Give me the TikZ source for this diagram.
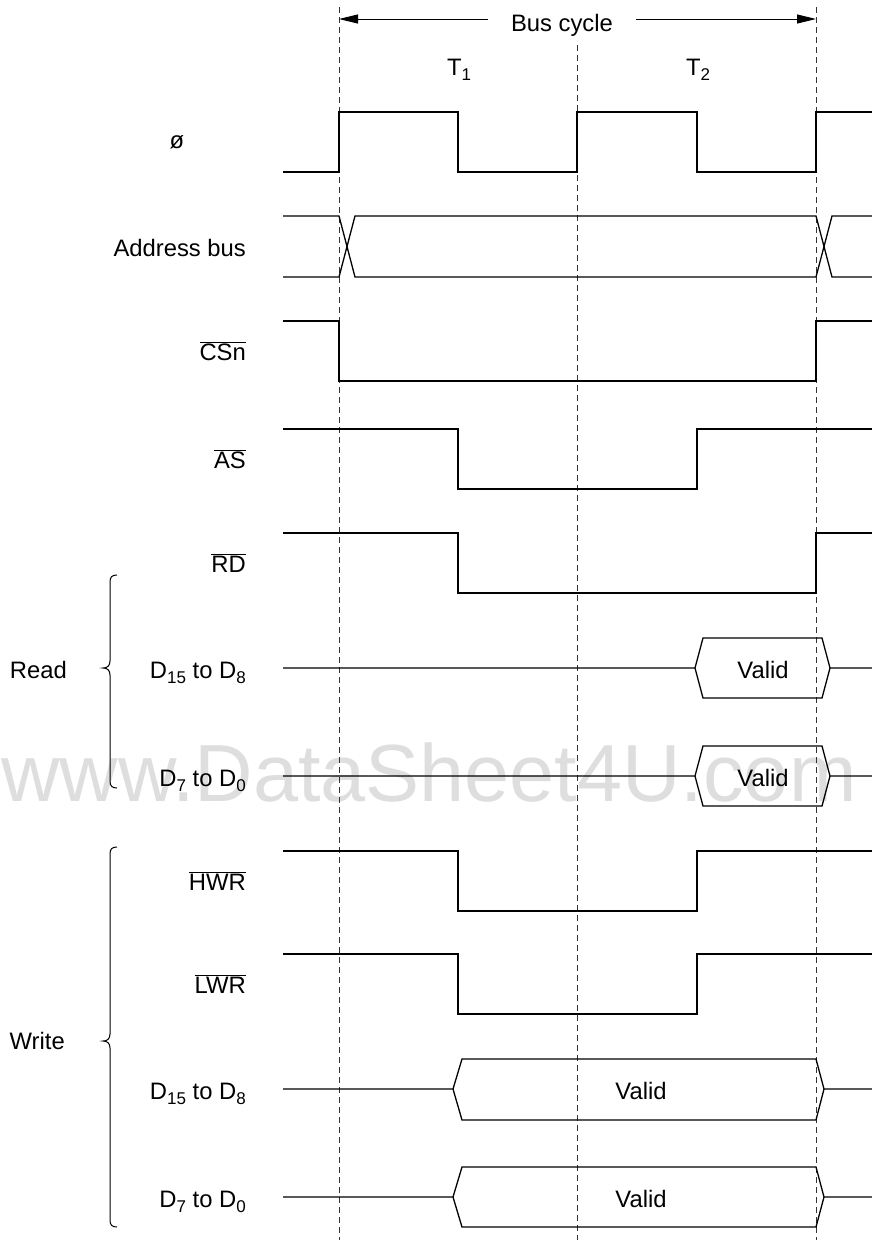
\documentclass[tikz,border=0pt]{standalone}
\usepackage{fontspec}
\setmainfont{Liberation Sans}
\usetikzlibrary{arrows.meta}

% 添字と負論理
\newcommand\dsub[1]{\raisebox{-5.5pt}{\fontsize{17}{18}\selectfont #1}}
\newcommand\nsig[1]{$\overline{\mbox{#1}}$}

\tikzset{
  sig/.style={black,line width=1.3pt,line join=miter},
  tick/.style={black!80,line width=0.9pt,dash pattern=on 6pt off 4pt},
  txt/.style={inner sep=0pt,font=\fontsize{23.8}{26}\selectfont},
  lbl/.style={txt,anchor=base east},
  brc/.style={black,line width=1pt}
}

\begin{document}
\begin{tikzpicture}[x=1pt,y=-1pt,>={Triangle[length=19pt,width=9pt]}]
    \useasboundingbox (0,0) rectangle (872,1240);

    % 透かし
    \node[anchor=base west,inner sep=0pt,text=black!13,
          font=\fontsize{81}{84}\selectfont] (wmark) at (1,801) {www.DataSheet4U.com};

    % 区切り線
    \draw[tick] (339,7) -- (339,1240);
    \draw[tick] (577,45) -- (577,1240);
    \draw[tick] (816,7) -- (816,1240);

    % バスサイクル
    \coordinate (cycL) at (339,19);
    \coordinate (cycR) at (816,19);
    \node[txt,anchor=base,inner xsep=23pt] (cyc) at (562,31) {Bus cycle};
    \draw[black,line width=1pt,->] (cyc.west |- cycL) -- (cycL);
    \draw[black,line width=1pt,->] (cyc.east |- cycR) -- (cycR);

    \node[txt,anchor=base] (t1) at (459,75) {T\dsub{1}};
    \node[txt,anchor=base] (t2) at (698,75) {T\dsub{2}};

    % 信号名
    \node[txt] (phi) at (177,142) {ø};
    \node[lbl] (addr) at (246,256) {Address bus};
    \node[lbl] (csn) at (246,360) {\nsig{CSn}};
    \node[lbl] (as) at (246,468) {\nsig{AS}};
    \node[lbl] (rd) at (246,572) {\nsig{RD}};
    \node[lbl] (rdh) at (246,678) {D\dsub{15} to D\dsub{8}};
    \node[lbl] (rdl) at (246,786) {D\dsub{7} to D\dsub{0}};
    \node[lbl] (hwr) at (246,890) {\nsig{HWR}};
    \node[lbl] (lwr) at (246,993) {\nsig{LWR}};
    \node[lbl] (wrh) at (246,1099) {D\dsub{15} to D\dsub{8}};
    \node[lbl] (wrl) at (246,1207) {D\dsub{7} to D\dsub{0}};

    \node[lbl] (read) at (67,678) {Read};
    \node[lbl] (write) at (65,1049) {Write};

    % 括弧
    \draw[brc] (117,575) .. controls (112,575) and (110,577) .. (110,582)
        -- (110,661) .. controls (110,666) and (107,668) .. (103,668)
        .. controls (107,668) and (110,670) .. (110,675)
        -- (110,781) .. controls (110,786) and (112,788) .. (117,788);
    \draw[brc] (117,847) .. controls (112,847) and (110,849) .. (110,854)
        -- (110,1034) .. controls (110,1039) and (107,1041) .. (103,1041)
        .. controls (107,1041) and (110,1043) .. (110,1048)
        -- (110,1220) .. controls (110,1225) and (112,1227) .. (117,1227);

    % ø
    \draw[sig] (283,172) -- (339,172) -- (339,112) -- (458,112) -- (458,172)
        -- (577,172) -- (577,112) -- (697,112) -- (697,172) -- (816,172)
        -- (816,112) -- (872,112);

    % アドレスバス
    \draw[sig] (283,216) -- (339,216) -- (355,277) -- (816,277) -- (832,216) -- (872,216);
    \draw[sig] (283,277) -- (339,277) -- (355,216) -- (816,216) -- (832,277) -- (872,277);

    % CSn, AS, RD
    \draw[sig] (283,321) -- (339,321) -- (339,381) -- (816,381) -- (816,321) -- (872,321);
    \draw[sig] (283,429) -- (458,429) -- (458,489) -- (697,489) -- (697,429) -- (872,429);
    \draw[sig] (283,533) -- (458,533) -- (458,593) -- (816,593) -- (816,533) -- (872,533);

    % リード時データ
    \draw[sig] (283,668) -- (695,668) -- (703,638) -- (822,638) -- (830,668) -- (872,668);
    \draw[sig] (695,668) -- (703,698) -- (822,698) -- (830,668);
    \node[txt] (rdhv) at (763,670) {Valid};
    \draw[sig] (283,776) -- (695,776) -- (703,746) -- (822,746) -- (830,776) -- (872,776);
    \draw[sig] (695,776) -- (703,806) -- (822,806) -- (830,776);
    \node[txt] (rdlv) at (763,778) {Valid};

    % HWR, LWR
    \draw[sig] (283,851) -- (458,851) -- (458,911) -- (697,911) -- (697,851) -- (872,851);
    \draw[sig] (283,954) -- (458,954) -- (458,1014) -- (697,1014) -- (697,954) -- (872,954);

    % ライト時データ
    \draw[sig] (283,1089) -- (453,1089) -- (462,1059) -- (816,1059) -- (824,1089) -- (872,1089);
    \draw[sig] (453,1089) -- (462,1120) -- (816,1120) -- (824,1089);
    \node[txt] (wrhv) at (641,1091) {Valid};
    \draw[sig] (283,1197) -- (453,1197) -- (462,1167) -- (816,1167) -- (824,1197) -- (872,1197);
    \draw[sig] (453,1197) -- (462,1227) -- (816,1227) -- (824,1197);
    \node[txt] (wrlv) at (641,1199) {Valid};
\end{tikzpicture}
\end{document}
